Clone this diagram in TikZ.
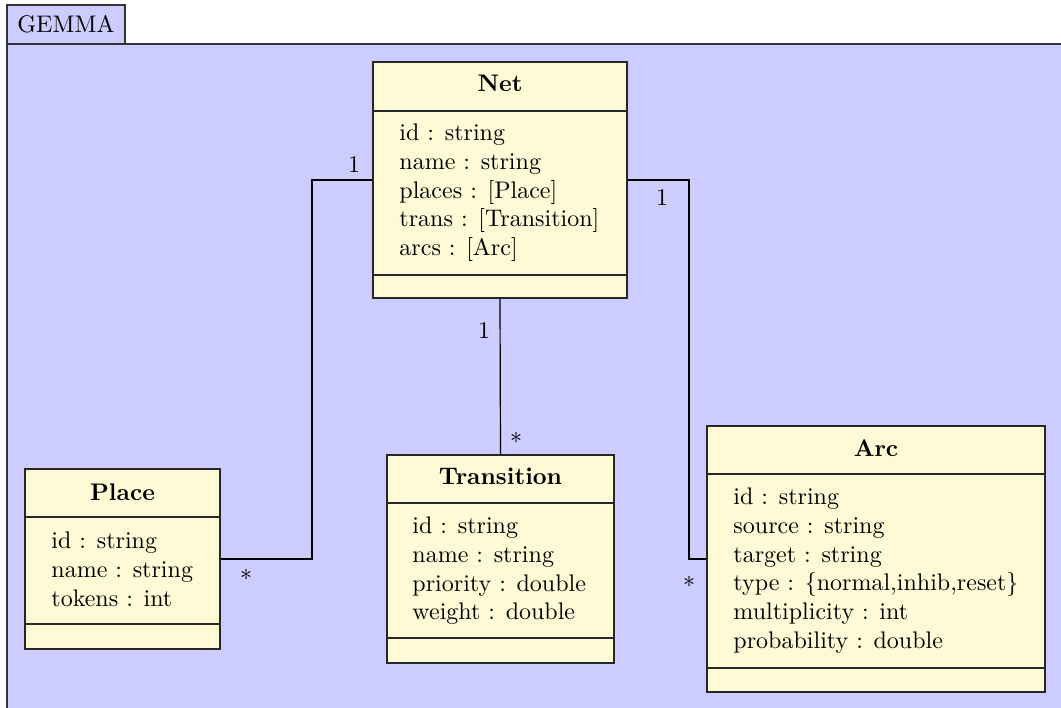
\documentclass[tikz,border=0pt]{standalone}
\usetikzlibrary{calc}
\definecolor{pkgblue}{RGB}{204,204,255}
\definecolor{clsyellow}{RGB}{255,250,214}
\begin{document}
\begin{tikzpicture}[x=0.41667pt,y=-0.41667pt,
  cls/.style={draw=black!85,fill=clsyellow,inner sep=0pt,line width=0.5pt},
  ttl/.style={anchor=base,font=\bfseries,inner sep=0pt},
  attrs/.style={anchor=north west,align=left,inner sep=0pt},
  sep/.style={draw=black!85,line width=0.5pt},
  conn/.style={draw=black,line width=0.5pt},
  mult/.style={inner sep=0pt}]
\path[use as bounding box] (0,0) rectangle (1061,708);
\begin{scope}
\clip (0,0) rectangle (1061,708);
\draw[fill=pkgblue,draw=black!80,line width=0.5pt] (7,44) rectangle (1080,730);
\end{scope}
\node[draw=black!80,fill=pkgblue,line width=0.5pt,minimum width=49.17pt,minimum height=16.25pt,inner sep=0pt] (tab) at (66,24.5) {GEMMA};

% classes
\node[cls,minimum width=105.83pt,minimum height=98.33pt] (net) at (500,180) {};
\node[cls,minimum width=81.25pt,minimum height=75pt] (place) at (122.5,559) {};
\node[cls,minimum width=94.58pt,minimum height=86.67pt] (trans) at (500.5,559) {};
\node[cls,minimum width=140.83pt,minimum height=110.83pt] (arc) at (876,559) {};

\draw[sep] (net.west |- 0,111) -- (net.east |- 0,111);
\draw[sep] (net.west |- 0,275) -- (net.east |- 0,275);
\draw[sep] (place.west |- 0,517) -- (place.east |- 0,517);
\draw[sep] (place.west |- 0,624) -- (place.east |- 0,624);
\draw[sep] (trans.west |- 0,503) -- (trans.east |- 0,503);
\draw[sep] (trans.west |- 0,638) -- (trans.east |- 0,638);
\draw[sep] (arc.west |- 0,474) -- (arc.east |- 0,474);
\draw[sep] (arc.west |- 0,668) -- (arc.east |- 0,668);

\node[ttl] (netT) at (500,92) {Net};
\node[ttl] (placeT) at (122.5,500) {Place};
\node[ttl] (transT) at (500.5,485) {Transition};
\node[ttl] (arcT) at (876,456) {Arc};

\node[attrs] (netA) at (399,123.3) {id : string\\name : string\\places : [Place]\\trans : [Transition]\\arcs : [Arc]};
\node[attrs] (placeA) at (51,531.3) {id : string\\name : string\\tokens : int};
\node[attrs] (transA) at (412,516.3) {id : string\\name : string\\priority : double\\weight : double};
\node[attrs] (arcA) at (733,487.3) {id : string\\source : string\\target : string\\type : \{normal,inhib,reset\}\\multiplicity : int\\probability : double};

% connectors
\coordinate (lk) at (312,370);
\coordinate (rk) at (689,370);
\draw[conn] (net.west) -| (lk) |- (place.east);
\draw[conn] (net.east) -| (rk) |- (arc.west);
\draw[conn] (net.south) -- (trans.north);

\node[mult] (m1) at (354,165) {1};
\node[mult] (m2) at (246,575) {$*$};
\node[mult] (m3) at (662,198) {1};
\node[mult] (m4) at (689,582) {$*$};
\node[mult] (m5) at (484,331) {1};
\node[mult] (m6) at (516,438) {$*$};
\end{tikzpicture}
\end{document}
